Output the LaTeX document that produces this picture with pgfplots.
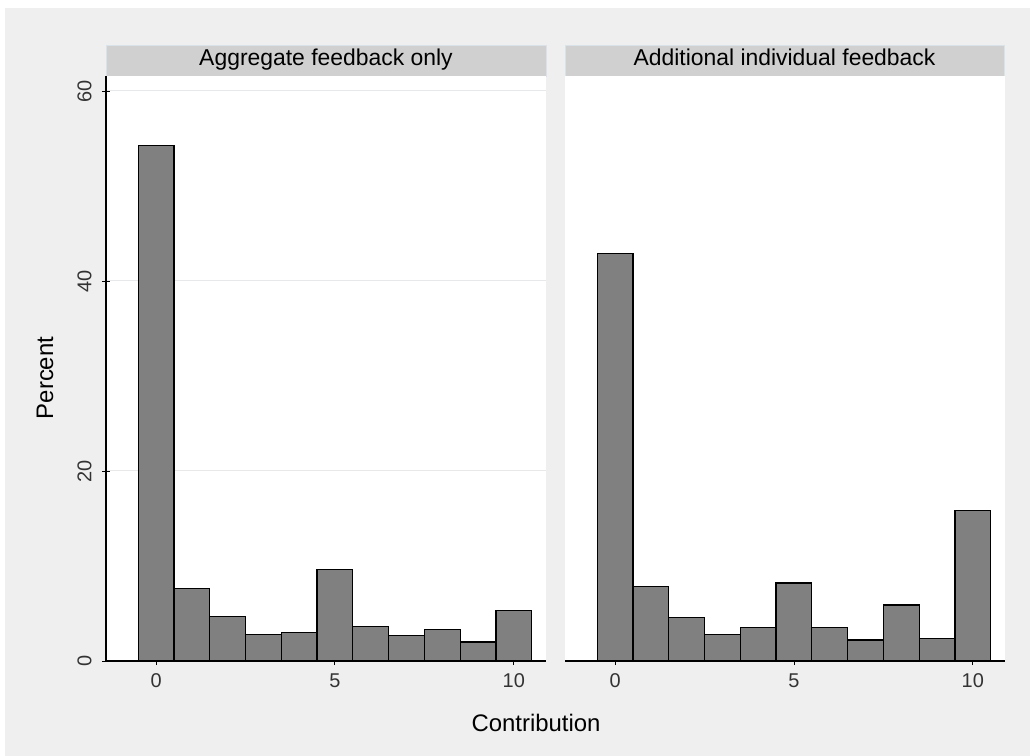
\documentclass[border=0pt]{standalone}
\usepackage{fontspec}
\setmainfont{Liberation Sans}
\usepackage{pgfplots}
\usepackage{pgfplotstable}
\pgfplotsset{compat=1.18}
\definecolor{bg}{HTML}{EFEFEF}
\definecolor{strip}{HTML}{D0D0D0}
\definecolor{stripline}{HTML}{D8E2E8}
\definecolor{barfill}{HTML}{808080}
\definecolor{gridc}{HTML}{E6E8EA}

\pgfplotstableread{
x y
0 54.3
1 7.6
2 4.7
3 2.8
4 3.0
5 9.6
6 3.6
7 2.7
8 3.3
9 2.0
10 5.3
}\aggdata

\pgfplotstableread{
x y
0 42.9
1 7.8
2 4.6
3 2.8
4 3.5
5 8.2
6 3.5
7 2.2
8 5.9
9 2.35
10 15.8
}\inddata

\pgfplotsset{
  panel/.style={
    scale only axis, width=440bp, height=585bp,
    xmin=-1.4, xmax=10.9, ymin=0, ymax=61.58,
    axis background/.style={fill=white},
    xtick={0,5,10},
    tick align=outside,
    major tick length=8bp,
    tick style={black, line width=0.9bp},
    ymajorgrids, grid style={gridc, line width=1bp},
    /pgf/number format/assume math mode=true,
    ticklabel style={font=\fontsize{20}{20}\selectfont, text=black!80},
    xticklabel shift=5bp,
    axis x line=bottom,
  },
  mybar/.style={ybar, bar width=1, fill=barfill, draw=black, line width=1.2bp},
}

\begin{document}
\begin{tikzpicture}
\fill[white] (0bp,0bp) rectangle (1030bp,756bp);
\fill[bg] (5bp,0bp) rectangle (1030bp,748bp);
% title strips
\filldraw[fill=strip, draw=stripline, line width=0.8bp] (106bp,680bp) rectangle (546bp,711bp);
\node[anchor=base, font=\fontsize{23}{23}\selectfont] at (326bp,690bp) {Aggregate feedback only};
\filldraw[fill=strip, draw=stripline, line width=0.8bp] (565bp,680bp) rectangle (1004bp,711bp);
\node[anchor=base, font=\fontsize{23}{23}\selectfont] at (784.5bp,690bp) {Additional individual feedback};

\begin{axis}[panel, at={(106bp,95bp)}, anchor=south west,
  axis y line=left,
  axis line style={-, black, line width=1.3bp},
  ytick={0,20,40,60},
  yticklabel shift=7bp,
  yticklabel style={rotate=90, anchor=south},
]
\addplot[mybar] table[x=x,y=y]{\aggdata};
\end{axis}

\begin{axis}[panel, at={(565bp,95bp)}, anchor=south west,
  axis y line=none,
  axis line style={-, black, line width=1.3bp},
  ytick={20,40,60},
  yticklabels={},
]
\addplot[mybar] table[x=x,y=y]{\inddata};
\end{axis}

\node[rotate=90, anchor=base, font=\fontsize{24}{24}\selectfont] at (53bp,378bp) {Percent};
\node[anchor=base, font=\fontsize{24}{24}\selectfont] at (536bp,25bp) {Contribution};
\end{tikzpicture}
\end{document}
